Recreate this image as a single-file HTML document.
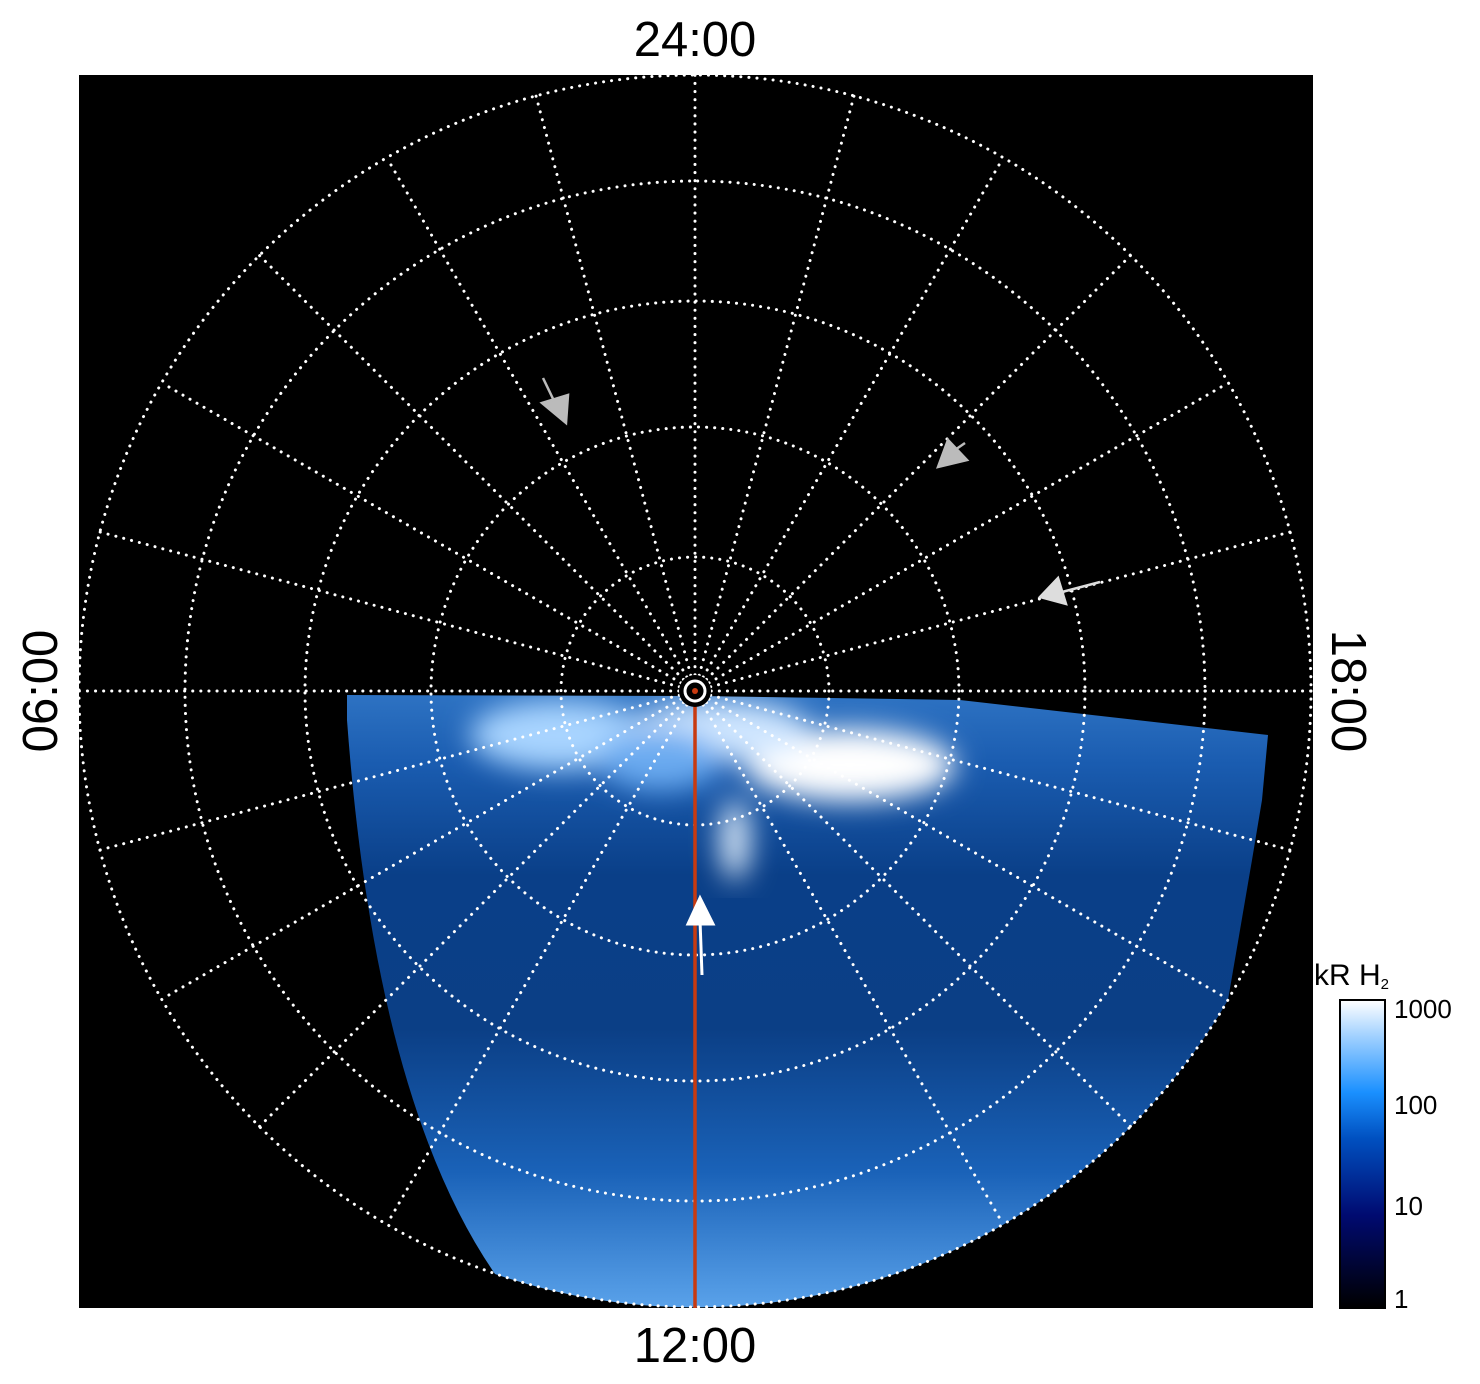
<!DOCTYPE html>
<html><head><meta charset="utf-8"><style>
html,body{margin:0;padding:0;background:#fff;}
svg{display:block;font-family:"Liberation Sans",sans-serif;}
</style></head><body>
<svg width="1480" height="1384" viewBox="0 0 1480 1384" xmlns="http://www.w3.org/2000/svg">
<defs>
<linearGradient id="dg" gradientUnits="userSpaceOnUse" x1="0" y1="690" x2="0" y2="1308">
<stop offset="0" stop-color="#2f74c4"/>
<stop offset="0.12" stop-color="#1a5cb0"/>
<stop offset="0.3" stop-color="#0a3f88"/>
<stop offset="0.55" stop-color="#0b3f86"/>
<stop offset="0.78" stop-color="#1a62b8"/>
<stop offset="1" stop-color="#5aa2ea"/>
</linearGradient>
<linearGradient id="cb" x1="0" y1="1" x2="0" y2="0">
<stop offset="0" stop-color="#000000"/>
<stop offset="0.3" stop-color="#000a70"/>
<stop offset="0.55" stop-color="#0050c0"/>
<stop offset="0.7" stop-color="#1a90ff"/>
<stop offset="0.88" stop-color="#9fd0ff"/>
<stop offset="1" stop-color="#ffffff"/>
</linearGradient>
<filter id="bl"><feGaussianBlur stdDeviation="14"/></filter>
<clipPath id="reg">
<path d="M347,720 L347,695 L700,696 L960,700 L1268,735 L1262,800 L1252,860 L1228,1000 A616,616 0 0 1 495,1274 Q375,1100 347,720 Z"/>
</clipPath>
</defs>
<rect x="79" y="75" width="1234" height="1233" fill="#000"/>
<g clip-path="url(#reg)">
<rect x="340" y="690" width="940" height="620" fill="url(#dg)"/>
<g filter="url(#bl)">
<ellipse cx="560" cy="735" rx="90" ry="35" fill="#a8d4ff"/>
<ellipse cx="850" cy="765" rx="105" ry="36" fill="#ffffff"/>
<ellipse cx="720" cy="730" rx="90" ry="30" fill="#cfe6ff"/>
<ellipse cx="735" cy="840" rx="14" ry="40" fill="#e8f4ff"/>
<ellipse cx="660" cy="760" rx="60" ry="30" fill="#6aaaf0"/>
</g>
</g>
<g fill="none" stroke="#fff" stroke-width="3" stroke-linecap="round" stroke-dasharray="0.1 8">
<circle cx="695" cy="691" r="616"/>
<circle cx="695" cy="691" r="510"/>
<circle cx="695" cy="691" r="390"/>
<circle cx="695" cy="691" r="264"/>
<circle cx="695" cy="691" r="134"/>
<line x1="695" y1="691" x2="1311" y2="691"/>
<line x1="695" y1="691" x2="1290" y2="532"/>
<line x1="695" y1="691" x2="1228" y2="383"/>
<line x1="695" y1="691" x2="1131" y2="255"/>
<line x1="695" y1="691" x2="1003" y2="158"/>
<line x1="695" y1="691" x2="854" y2="96"/>
<line x1="695" y1="691" x2="695" y2="75"/>
<line x1="695" y1="691" x2="536" y2="96"/>
<line x1="695" y1="691" x2="387" y2="158"/>
<line x1="695" y1="691" x2="259" y2="255"/>
<line x1="695" y1="691" x2="162" y2="383"/>
<line x1="695" y1="691" x2="100" y2="532"/>
<line x1="695" y1="691" x2="79" y2="691"/>
<line x1="695" y1="691" x2="100" y2="850"/>
<line x1="695" y1="691" x2="162" y2="999"/>
<line x1="695" y1="691" x2="259" y2="1127"/>
<line x1="695" y1="691" x2="387" y2="1224"/>
<line x1="695" y1="691" x2="1003" y2="1224"/>
<line x1="695" y1="691" x2="1131" y2="1127"/>
<line x1="695" y1="691" x2="1228" y2="999"/>
<line x1="695" y1="691" x2="1290" y2="850"/>
</g>
<line x1="695" y1="691" x2="695" y2="1308" stroke="#c83a10" stroke-width="3.5"/>
<circle cx="695" cy="691" r="16" fill="#000"/>
<circle cx="695" cy="691" r="10" fill="none" stroke="#fff" stroke-width="3"/>
<circle cx="695" cy="691" r="3" fill="#c83a10"/>
<g stroke="#bbb" stroke-width="2.5" fill="#bbb">
<line x1="543" y1="378" x2="556" y2="405"/><polygon points="542,403 568,395 566,423"/>
<line x1="965" y1="443" x2="952" y2="452"/><polygon points="948,440 967,460 938,467"/>
</g>
<g stroke="#ddd" stroke-width="2.5" fill="#ddd">
<line x1="1100" y1="582" x2="1062" y2="592"/><polygon points="1058,578 1066,604 1040,597"/>
</g>
<g stroke="#fff" stroke-width="3" fill="#fff">
<line x1="702" y1="975" x2="700" y2="920"/><polygon points="700,898 688,924 713,924"/>
</g>
<rect x="1340" y="1000" width="45" height="308" fill="url(#cb)" stroke="#000" stroke-width="2"/>
<g font-size="26" fill="#000">
<text x="1394" y="1018">1000</text>
<text x="1394" y="1114">100</text>
<text x="1394" y="1215">10</text>
<text x="1394" y="1308">1</text>
<text x="1314" y="985" font-size="30">kR H<tspan font-size="15" dy="4">2</tspan></text>
</g>
<g font-size="49" fill="#000" text-anchor="middle">
<text x="695" y="56">24:00</text>
<text x="695" y="1362">12:00</text>
<text transform="translate(57,691) rotate(-90)">06:00</text>
<text transform="translate(1332,691) rotate(90)">18:00</text>
</g>
</svg>
</body></html>
